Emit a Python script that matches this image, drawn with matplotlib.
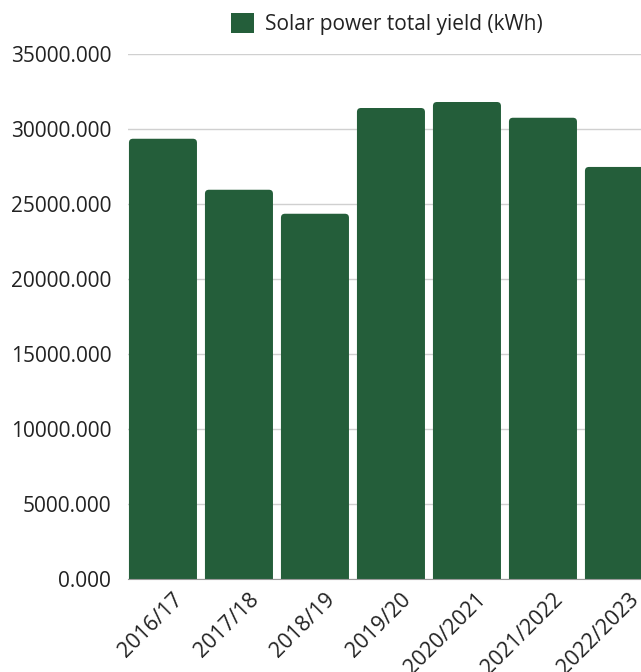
import matplotlib
matplotlib.use("Agg")
import matplotlib.pyplot as plt
from matplotlib.patches import FancyBboxPatch, Patch
from matplotlib.ticker import FormatStrFormatter
from matplotlib.transforms import ScaledTranslation

seasons = ["2016/17", "2017/18", "2018/19", "2019/20", "2020/2021", "2021/2022", "2022/2023"]
yield_kwh = [29350, 25950, 24350, 31400, 31800, 30750, 27470]
series_name = "Solar power total yield (kWh)"

bar_color = "#245e3a"
text_color = "#222222"

plt.rcParams["font.family"] = ["Open Sans", "DejaVu Sans"]

fig = plt.figure(figsize=(6.41, 6.72), dpi=100)
ax = fig.add_axes([128 / 641, 93 / 672, 513 / 641, 525 / 672])

x = list(range(len(seasons)))
bars = ax.bar(x, yield_kwh, width=0.895, color=bar_color)

# swap square bars for ones with rounded top corners
r_px = 4
ax.set_xlim(-0.46, 6.29)
ax.set_ylim(0, 35000)
x_per_px = (6.29 + 0.46) / 513
y_per_px = 35000 / 525
for rect in bars:
    rect.set_visible(False)
    x0, w, h = rect.get_x(), rect.get_width(), rect.get_height()
    patch = FancyBboxPatch((x0, -3 * r_px * y_per_px), w, h + 3 * r_px * y_per_px,
                           boxstyle=f"round,pad=0,rounding_size={r_px * x_per_px}",
                           mutation_aspect=y_per_px / x_per_px,
                           facecolor=bar_color, edgecolor="none", zorder=2)
    ax.add_patch(patch)

ax.yaxis.set_major_formatter(FormatStrFormatter("%.3f"))
ax.set_yticks(range(0, 35001, 5000))
ax.grid(axis="y", color="#d0d0d0", linewidth=1)
ax.set_axisbelow(True)
for s in ["top", "right", "left"]:
    ax.spines[s].set_visible(False)
ax.spines["bottom"].set_color("#9a9a9a")
ax.tick_params(axis="y", length=0, pad=12, labelsize=15, labelcolor=text_color)
ax.tick_params(axis="x", length=0, pad=7, labelsize=15.5, labelcolor=text_color)
ax.set_xticks(x)
ax.set_xticklabels(seasons, rotation=45, ha="right", rotation_mode="anchor")
shift = ScaledTranslation(9 / 100, 0, fig.dpi_scale_trans)
for lbl in ax.get_xticklabels():
    lbl.set_transform(lbl.get_transform() + shift)

handle = Patch(facecolor=bar_color, edgecolor="none")
ax.legend([handle], [series_name], loc="center", bbox_to_anchor=(387 / 641, 1 - 24 / 672),
          bbox_transform=fig.transFigure, frameon=False, fontsize=15,
          handlelength=1.1, handleheight=1.1, handletextpad=0.55, labelcolor=text_color)

fig.savefig("out.png", dpi=100)
